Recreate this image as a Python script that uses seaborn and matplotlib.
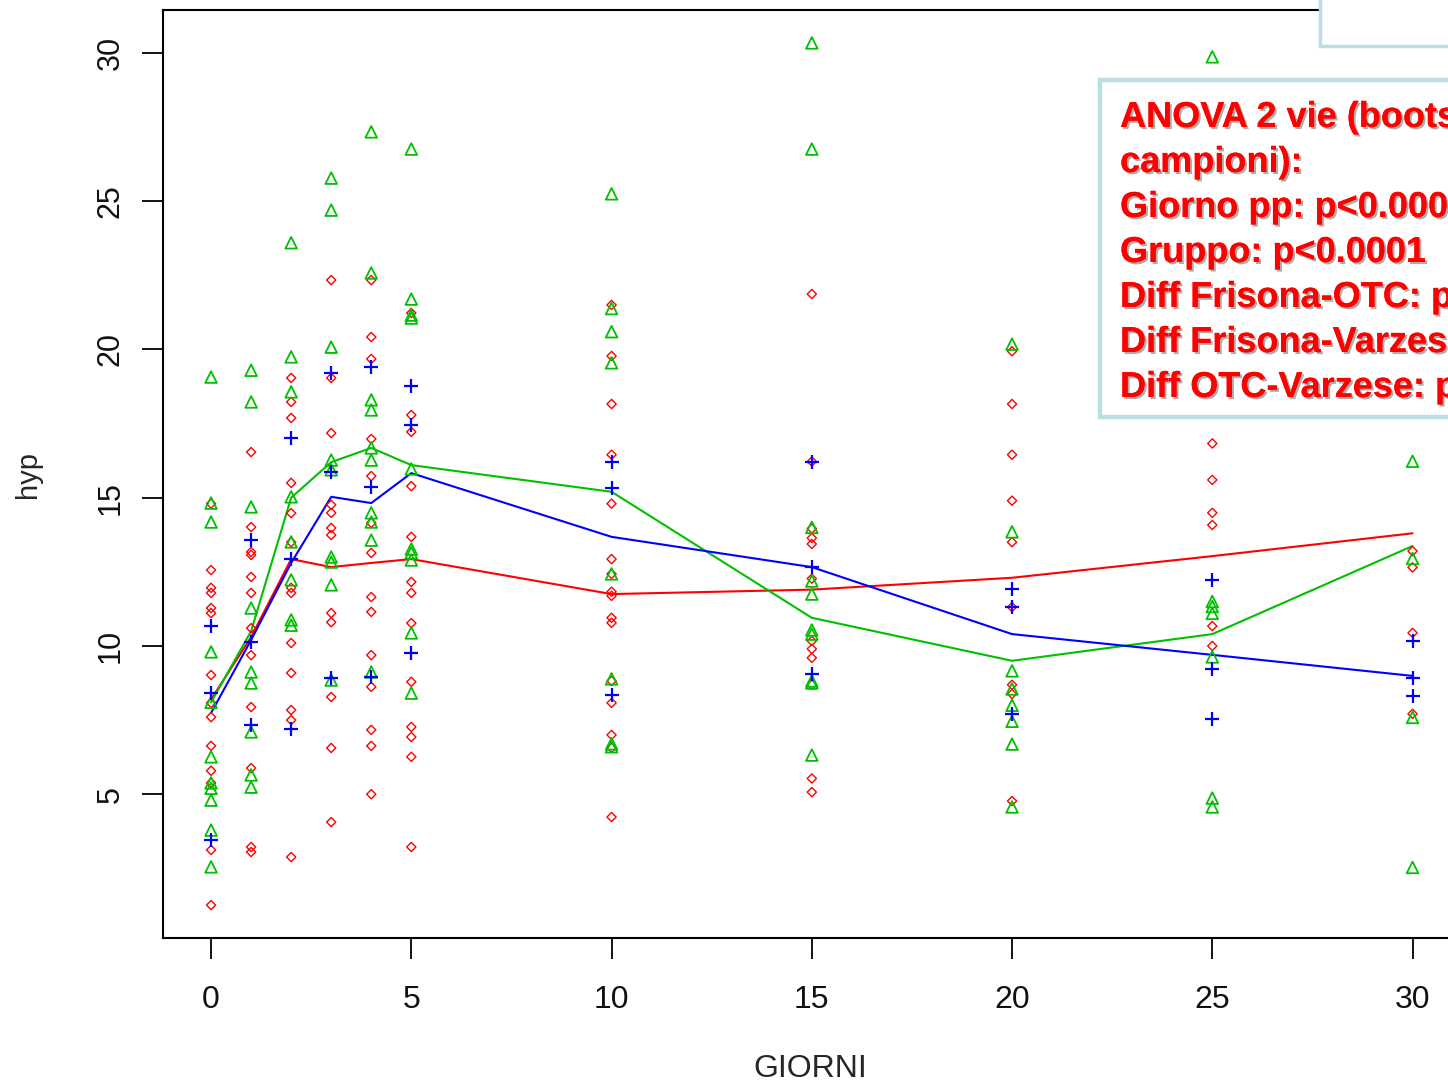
import pandas as pd
import matplotlib
matplotlib.use("Agg")
import matplotlib.pyplot as plt
import matplotlib.patheffects as pe
from matplotlib.patches import Rectangle
import seaborn as sns

# days post partum
giorni = [0, 1, 2, 3, 4, 5, 10, 15, 20, 25, 30]

frisona_hyp = [
    [14.8, 12.56, 11.96, 11.79, 11.28, 11.11, 9.02, 8.08, 7.6, 6.63, 5.79, 5.38, 3.12, 1.26],
    [16.54, 14.01, 13.17, 13.07, 12.33, 11.79, 10.6, 9.69, 7.94, 5.88, 3.22, 3.05],
    [19.04, 18.23, 17.69, 15.5, 14.48, 13.5, 11.96, 11.79, 10.1, 9.09, 7.84, 7.5, 2.88],
    [22.34, 19.04, 17.18, 14.76, 14.49, 13.98, 13.74, 11.11, 10.8, 8.28, 6.56, 4.06],
    [22.34, 20.42, 19.68, 16.98, 15.73, 14.15, 13.14, 11.65, 11.15, 9.69, 8.62, 7.17, 6.63, 5.0],
    [21.23, 17.79, 17.22, 15.39, 13.68, 12.16, 11.79, 10.77, 8.79, 7.27, 6.93, 6.26, 3.22],
    [21.5, 19.78, 18.16, 16.45, 14.8, 12.93, 12.43, 11.83, 11.69, 10.95, 10.78, 8.82, 8.08, 7.0, 6.56, 4.23],
    [21.87, 16.22, 13.96, 13.64, 13.44, 12.27, 10.17, 9.9, 9.6, 8.69, 5.53, 5.07],
    [19.94, 18.16, 16.45, 14.9, 13.5, 11.31, 8.69, 8.38, 4.77],
    [16.83, 15.6, 14.49, 14.08, 10.67, 10.0],
    [13.2, 12.65, 10.44, 7.71],
]
otc_hyp = [
    [19.07, 14.82, 14.18, 9.8, 8.1, 6.26, 5.38, 5.2, 4.8, 3.79, 2.55],
    [19.3, 18.23, 14.69, 11.28, 9.12, 8.75, 7.1, 5.65, 5.24],
    [23.6, 19.75, 18.57, 15.03, 13.51, 12.23, 10.88, 10.7],
    [25.78, 24.7, 20.08, 16.27, 15.94, 13.0, 12.83, 12.06, 8.85],
    [27.34, 22.58, 18.3, 17.96, 16.68, 16.27, 14.49, 14.18, 13.57, 9.12],
    [26.76, 21.7, 21.16, 21.06, 15.97, 13.27, 13.14, 12.9, 10.44, 8.41],
    [25.25, 21.38, 20.6, 19.55, 12.43, 8.89, 6.7, 6.6],
    [30.34, 26.76, 14.0, 12.19, 11.75, 10.54, 10.4, 8.82, 8.75, 6.32],
    [20.18, 13.85, 9.16, 8.55, 8.0, 7.46, 6.69, 4.57],
    [29.87, 11.5, 11.33, 11.1, 9.63, 4.87, 4.57],
    [16.23, 12.95, 7.59, 2.53],
]
varzese_hyp = [
    [10.67, 8.41, 3.46],
    [13.57, 10.13, 7.33],
    [17.0, 12.93, 7.2],
    [19.2, 15.87, 8.92],
    [19.41, 15.36, 8.96],
    [18.77, 17.45, 9.76],
    [16.19, 15.33, 8.35],
    [16.22, 12.67, 9.04],
    [11.92, 11.31, 7.7],
    [12.23, 9.23, 7.55],
    [10.18, 8.92, 8.31],
]

# group means drawn as lines
frisona_mean = [8.2, 10.3, 12.93, 12.66, 12.8, 12.93, 11.75, 11.9, 12.3, 13.03, 13.8]
otc_mean = [8.1, 10.5, 15.0, 16.2, 16.68, 16.1, 15.2, 10.95, 9.5, 10.4, 13.37]
varzese_mean = [7.74, 10.2, 12.8, 15.03, 14.82, 15.83, 13.68, 12.66, 10.4, 9.7, 8.99]

anova_lines = [
    "ANOVA 2 vie (bootstrap",
    "campioni):",
    "Giorno pp: p<0.0001",
    "Gruppo: p<0.0001",
    "Diff Frisona-OTC: p",
    "Diff Frisona-Varzese: p",
    "Diff OTC-Varzese: p",
]

groups = {
    "Frisona": (frisona_hyp, frisona_mean, "#ff0000"),
    "OTC": (otc_hyp, otc_mean, "#00c000"),
    "Varzese": (varzese_hyp, varzese_mean, "#0000ff"),
}

rows = []
for name, (vals, _, _) in groups.items():
    for g, day_vals in zip(giorni, vals):
        for v in day_vals:
            rows.append({"GIORNI": g, "hyp": v, "gruppo": name})
df = pd.DataFrame(rows)

sns.set_style("ticks")
plt.rcParams['font.family'] = ['Liberation Sans', 'DejaVu Sans']

W, H = 1448, 1088
fig = plt.figure(figsize=(W / 100, H / 100), dpi=100)
ax = fig.add_axes([163 / W, 1 - 938 / H, 1297.6 / W, 928 / H])

# mean lines
for name, (_, means, col) in groups.items():
    sns.lineplot(x=giorni, y=means, color=col, linewidth=1.5, ax=ax,
                 estimator=None, zorder=2)

# points
sub = df[df.gruppo == "Frisona"]
sns.scatterplot(data=sub, x="GIORNI", y="hyp", marker="D", s=22,
                facecolor="none", edgecolor="#ff0000", linewidth=1.0, ax=ax, zorder=3)
sub = df[df.gruppo == "OTC"]
sns.scatterplot(data=sub, x="GIORNI", y="hyp", marker="^", s=70,
                facecolor="none", edgecolor="#00c000", linewidth=1.3, ax=ax, zorder=3)
sub = df[df.gruppo == "Varzese"]
sns.scatterplot(data=sub, x="GIORNI", y="hyp", marker="+", s=110,
                color="#0000ff", linewidth=1.6, ax=ax, zorder=4)

ax.set_xlim(-1.2, 31.2)
ax.set_ylim(0.15, 31.45)
ax.set_xticks([0, 5, 10, 15, 20, 25, 30])
ax.set_yticks([5, 10, 15, 20, 25, 30])
for sp in ax.spines.values():
    sp.set_linewidth(1.5)
    sp.set_color("black")
ax.tick_params(axis="both", length=15, width=1.3, color="black",
               labelsize=23, labelcolor="#111111")
ax.tick_params(axis="x", pad=19)
ax.tick_params(axis="y", pad=12, labelsize=22)
for lab in ax.get_yticklabels():
    lab.set_rotation(90)
    lab.set_va("center")

ax.set_xlabel("GIORNI", fontsize=23)
ax.set_ylabel("hyp", fontsize=21)
ax.xaxis.set_label_coords(0.4986, -0.125)
ax.yaxis.set_label_coords(-0.093, 0.5)

# legend box (cut off at the top right)
fig.add_artist(Rectangle((1319.5 / W, 1 - 45.5 / H), 200 / W, 100 / H,
                         transform=fig.transFigure, facecolor="white",
                         edgecolor="#b9dfe2", linewidth=2.5, zorder=5))
# ANOVA box
fig.add_artist(Rectangle((1099.5 / W, 1 - 417 / H), 500 / W, 336.5 / H,
                         transform=fig.transFigure, facecolor="white",
                         edgecolor="#b9dfe2", linewidth=3.2, zorder=5))
for i, line in enumerate(anova_lines):
    fig.text(1120 / W, 1 - (127 + 45 * i) / H, line, color="#ff0000",
             fontsize=26, fontweight="bold", va="baseline", ha="left", zorder=6,
             path_effects=[pe.withSimplePatchShadow(offset=(1.5, -1.5),
                                                    shadow_rgbFace="#777777",
                                                    alpha=0.6),
                           pe.Normal()])

fig.savefig("out.png", dpi=100)
